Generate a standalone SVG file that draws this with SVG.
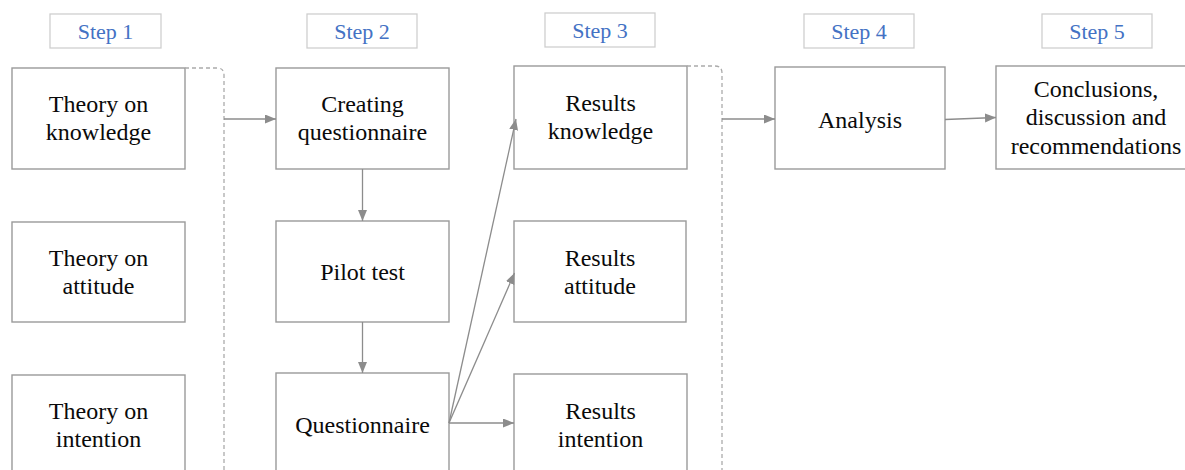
<svg xmlns="http://www.w3.org/2000/svg" width="1185" height="470" viewBox="0 0 1185 470">
  <style>
    .step rect { fill: #ffffff; stroke: #cfcfcf; stroke-width: 1.3; }
    .step text { font-family: "Liberation Serif", "Times New Roman", serif; font-size: 22px; fill: #4472c4; text-anchor: middle; }
    .node rect { fill: #ffffff; stroke: #9a9a9a; stroke-width: 1.4; }
    .node text { font-family: "Liberation Serif", "Times New Roman", serif; font-size: 24px; fill: #0a0a0a; text-anchor: middle; }
    .conn { fill: none; stroke: #8c8c8c; stroke-width: 1.3; }
    .arrow { marker-end: url(#head); }
    .bracket { fill: none; stroke: #ababab; stroke-width: 1.3; stroke-dasharray: 4 3; }
  </style>
  <defs>
    <marker id="head" markerUnits="userSpaceOnUse" markerWidth="12" markerHeight="10" refX="11" refY="4.5" orient="auto">
      <path d="M0,0 L11,4.5 L0,9 z" fill="#8c8c8c"/>
    </marker>
  </defs>

  <rect width="1185" height="470" fill="#ffffff"/>

  <!-- step labels -->
  <g id="step1" class="step"><rect x="50" y="14" width="111" height="34"/><text x="105.5" y="38.5">Step 1</text></g>
  <g id="step2" class="step"><rect x="307" y="14" width="110" height="34"/><text x="362" y="38.5">Step 2</text></g>
  <g id="step3" class="step"><rect x="545" y="13" width="110" height="34"/><text x="600" y="37.5">Step 3</text></g>
  <g id="step4" class="step"><rect x="804" y="14" width="110" height="34"/><text x="859" y="38.5">Step 4</text></g>
  <g id="step5" class="step"><rect x="1042" y="14" width="110" height="34"/><text x="1097" y="38.5">Step 5</text></g>

  <!-- step 1: theory -->
  <g id="theory-knowledge" class="node"><rect x="12" y="68" width="173" height="101"/><text x="98.5" y="112">Theory on</text><text x="98.5" y="140">knowledge</text></g>
  <g id="theory-attitude" class="node"><rect x="12" y="222" width="173" height="100"/><text x="98.5" y="266">Theory on</text><text x="98.5" y="294">attitude</text></g>
  <g id="theory-intention" class="node"><rect x="12" y="375" width="173" height="110"/><text x="98.5" y="419">Theory on</text><text x="98.5" y="447">intention</text></g>

  <!-- step 2: instrument -->
  <g id="creating-questionnaire" class="node"><rect x="276" y="68" width="173" height="101"/><text x="362.5" y="112">Creating</text><text x="362.5" y="140">questionnaire</text></g>
  <g id="pilot-test" class="node"><rect x="276" y="221" width="173" height="101"/><text x="362.5" y="280">Pilot test</text></g>
  <g id="questionnaire" class="node"><rect x="276" y="373" width="173" height="112"/><text x="362.5" y="433">Questionnaire</text></g>

  <!-- step 3: results -->
  <g id="results-knowledge" class="node"><rect x="514" y="66" width="173" height="103"/><text x="600.5" y="111">Results</text><text x="600.5" y="139">knowledge</text></g>
  <g id="results-attitude" class="node"><rect x="514" y="221" width="172" height="101"/><text x="600" y="266">Results</text><text x="600" y="294">attitude</text></g>
  <g id="results-intention" class="node"><rect x="514" y="374" width="173" height="111"/><text x="600.5" y="419">Results</text><text x="600.5" y="447">intention</text></g>

  <!-- step 4 and 5 -->
  <g id="analysis" class="node"><rect x="775" y="67" width="170" height="102"/><text x="860" y="128">Analysis</text></g>
  <g id="conclusions" class="node"><rect x="996" y="66" width="200" height="103"/><text x="1096" y="97">Conclusions,</text><text x="1096" y="125">discussion and</text><text x="1096" y="154">recommendations</text></g>

  <!-- connectors -->
  <g id="connectors">
    <path class="bracket" d="M185,68 H217 Q224,68 224,75 V470"/>
    <path class="bracket" d="M687,66 H715 Q722,66 722,73 V470"/>
    <path class="conn arrow" d="M224,119 H276"/>
    <path class="conn arrow" d="M362.5,169 V221"/>
    <path class="conn arrow" d="M362.5,322 V373"/>
    <path class="conn arrow" d="M449,423 L516,119"/>
    <path class="conn arrow" d="M449,423 L514.5,273"/>
    <path class="conn arrow" d="M449,423 H514"/>
    <path class="conn arrow" d="M722,119 H775"/>
    <path class="conn arrow" d="M945,119.5 L996,117.5"/>
  </g>
</svg>
